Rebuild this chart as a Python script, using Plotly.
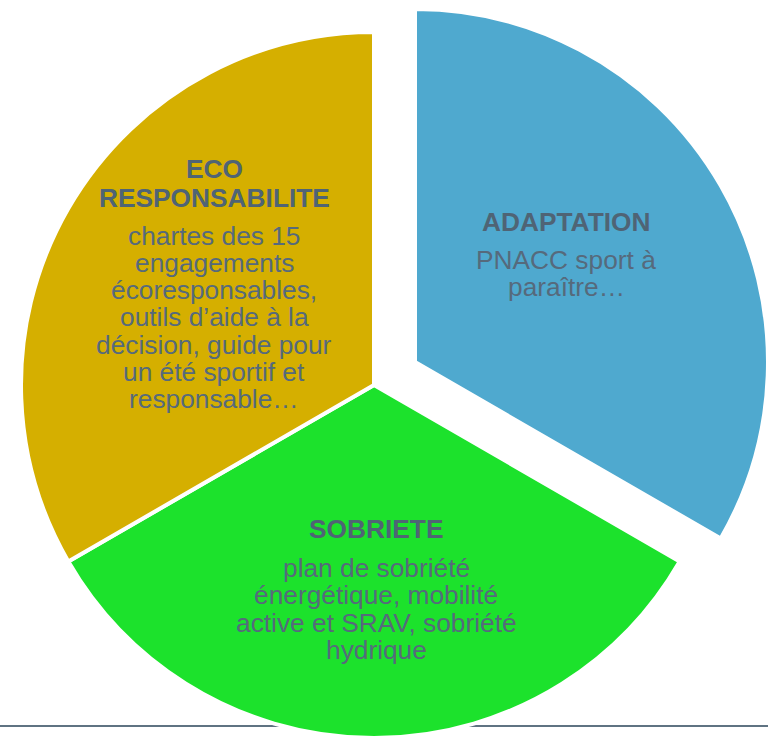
import plotly.graph_objects as go

# ---- data ----
categories = ["ADAPTATION", "SOBRIETE", "ECO RESPONSABILITE"]
shares = [1, 1, 1]
title_lines = [["ADAPTATION"], ["SOBRIETE"], ["ECO", "RESPONSABILITE"]]
desc_lines = [
    ["PNACC sport à", "paraître…"],
    ["plan de sobriété", "énergétique, mobilité", "active et SRAV, sobriété", "hydrique"],
    ["chartes des 15", "engagements", "écoresponsables,", "outils d’aide à la",
     "décision, guide pour", "un été sportif et", "responsable…"],
]
slice_colors = ["#4fa9cf", "#1ce22c", "#d5af00"]

# ---- layout / styling ----
W, H = 768, 738
R = 353
CX, CY = 374, 385          # centre of main pie (px, from top-left)
PX, PY = 415, 362          # centre of exploded slice
TRANSP = "rgba(0,0,0,0)"
TITLE_COLOR = "#4f6475"
BODY_COLOR = "#566a7c"
FONT = "Arial, Liberation Sans, sans-serif"
FS = 26.3
LINE_H = 27.3
# (x centre, y of first title line, y of first desc line) per slice, in px
text_pos = [(566, 222, 260), (376, 529, 568), (214, 168.5, 235.5)]
TITLE_H = 29


def dom_x(c):
    return [max(0.0, (c - R) / W), min(1.0, (c + R) / W)]


def dom_y(c):
    yc = H - c
    return [max(0.0, (yc - R) / H), min(1.0, (yc + R) / H)]


main_colors = [TRANSP] + slice_colors[1:]
main_lines = [TRANSP, "white", "white"]
expl_colors = [slice_colors[0], TRANSP, TRANSP]
expl_lines = ["white", TRANSP, TRANSP]

fig = go.Figure()
fig.add_trace(go.Pie(
    labels=categories, values=shares, sort=False, direction="clockwise",
    rotation=0, textinfo="none", hoverinfo="label",
    marker=dict(colors=expl_colors, line=dict(color=expl_lines, width=4)),
    domain=dict(x=dom_x(PX), y=dom_y(PY)), showlegend=False,
))
fig.add_trace(go.Pie(
    labels=categories, values=shares, sort=False, direction="clockwise",
    rotation=0, textinfo="none", hoverinfo="label",
    marker=dict(colors=main_colors, line=dict(color=main_lines, width=4)),
    domain=dict(x=dom_x(CX), y=dom_y(CY)), showlegend=False,
))

annotations = []
for i in range(len(categories)):
    xc, yt, yd = text_pos[i]
    for j, line in enumerate(title_lines[i]):
        annotations.append(dict(
            text=f"<b>{line}</b>", x=xc / W, y=1 - (yt + j * TITLE_H) / H,
            xref="paper", yref="paper", showarrow=False, borderpad=0,
            xanchor="center", yanchor="middle",
            font=dict(family=FONT, size=FS, color=TITLE_COLOR)))
    for j, line in enumerate(desc_lines[i]):
        annotations.append(dict(
            text=line, x=xc / W, y=1 - (yd + j * LINE_H) / H,
            xref="paper", yref="paper", showarrow=False, borderpad=0,
            xanchor="center", yanchor="middle",
            font=dict(family=FONT, size=FS, color=BODY_COLOR)))

fig.update_layout(
    width=W, height=H,
    margin=dict(l=0, r=0, t=0, b=0, pad=0),
    paper_bgcolor="white", plot_bgcolor="white",
    annotations=annotations,
    shapes=[dict(type="line", xref="paper", yref="paper", x0=0, x1=1,
                 y0=1 - 726 / H, y1=1 - 726 / H, layer="below",
                 line=dict(color="#5f7382", width=2))],
)

fig.write_html("out.html", config={"displayModeBar": False},
               post_script="document.body.style.margin='0px';")
